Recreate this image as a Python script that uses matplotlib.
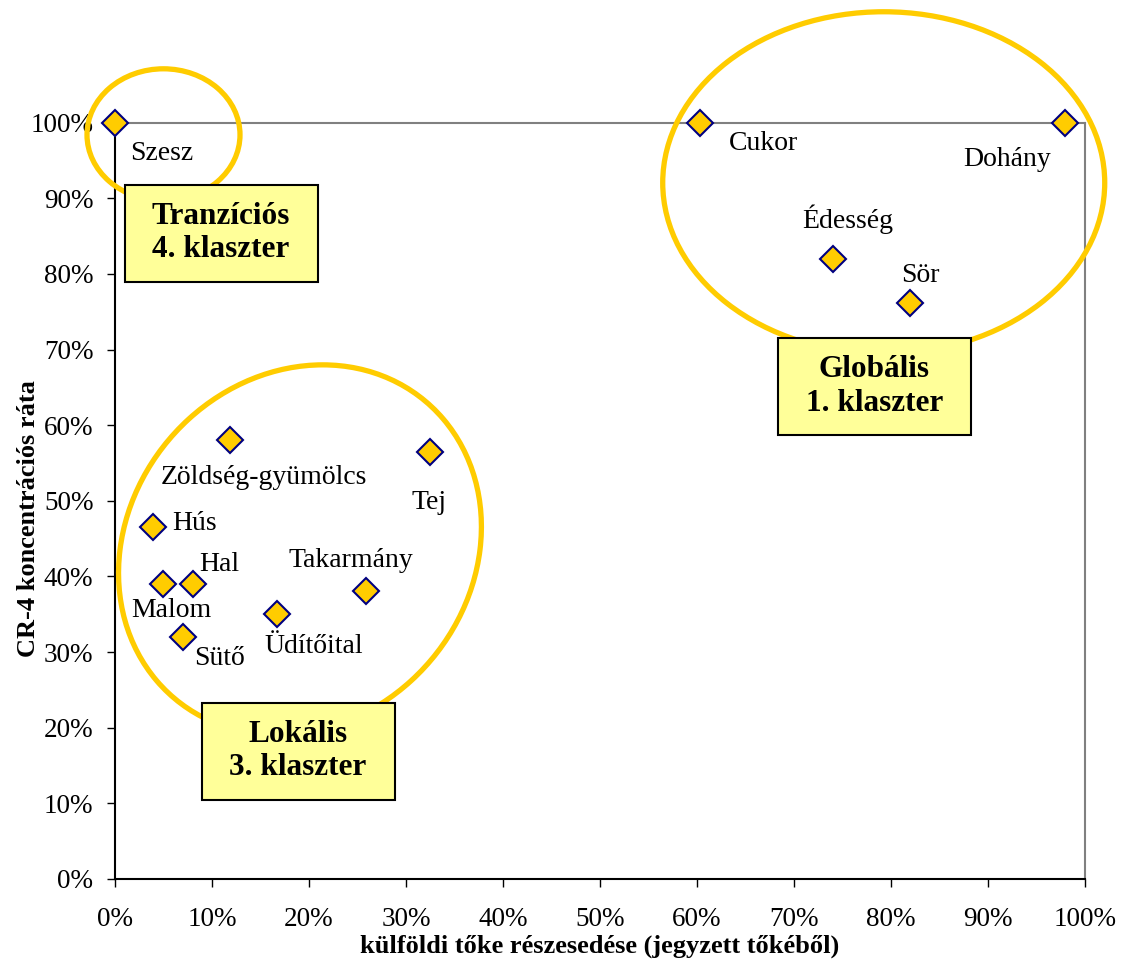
import matplotlib
matplotlib.use('Agg')
import matplotlib.pyplot as plt
from matplotlib.patches import Ellipse, Rectangle
from matplotlib.transforms import Affine2D, IdentityTransform
from matplotlib.ticker import PercentFormatter, MultipleLocator

plt.rcParams['font.family'] = ['Liberation Serif', 'DejaVu Serif']

# Adatok: ágazatok, külföldi tőke részesedése, CR-4 koncentrációs ráta
agazat = ['Szesz', 'Cukor', 'Dohány', 'Édesség', 'Sör', 'Zöldség-gyümölcs', 'Tej',
          'Hús', 'Hal', 'Malom', 'Sütő', 'Üdítőital', 'Takarmány']
kulfoldi_toke = [0.0, 0.603, 0.979, 0.740, 0.820, 0.119, 0.325,
                 0.039, 0.080, 0.049, 0.070, 0.167, 0.259]
cr4 = [1.0, 1.0, 1.0, 0.820, 0.762, 0.580, 0.564,
       0.466, 0.390, 0.390, 0.320, 0.351, 0.381]

klaszter_nev = ['Tranzíciós\n4. klaszter', 'Globális\n1. klaszter', 'Lokális\n3. klaszter']

# címkék eltolása pixelben (dx, dy, igazítás)
cimke_hely = [(15, -37, 'left'), (29, -27, 'left'), (-14, -43, 'right'),
              (15, 31, 'center'), (10, 21, 'center'), (33, -44, 'center'),
              (-1, -57, 'center'), (19, -3, 'left'), (7, 13, 'left'),
              (9, -33, 'center'), (11, -28, 'left'), (37, -39, 'center'),
              (-15, 24, 'center')]

# klaszter ellipszisek (középpont adatkoordinátában, méret pixelben, dőlés)
ellipszis = [((0.050, 0.984), 153, 132, 0), ((0.7925, 0.9206), 442, 342, 0),
             ((0.1907, 0.4352), 360, 370, 7.0)]
doboz = [(0.1094, 0.8540), (0.7827, 0.6512), (0.1887, 0.1689)]

W, H = 1129, 964
fig = plt.figure(figsize=(W / 100, H / 100), dpi=100)
ax = fig.add_axes([115 / W, 85 / H, 970 / W, 756.3 / H])
ax.set_xlim(0, 1)
ax.set_ylim(0, 1)

ax.plot(kulfoldi_toke, cr4, linestyle='none', marker='D', markersize=13,
        markerfacecolor='#FFCC00', markeredgecolor='#000080', markeredgewidth=1.5,
        clip_on=False, zorder=6)

for nev, x, y, (dx, dy, ha) in zip(agazat, kulfoldi_toke, cr4, cimke_hely):
    ax.annotate(nev, (x, y), xytext=(dx, dy), textcoords='offset pixels',
                ha=ha, va='baseline', fontsize=20, zorder=6)

# tengelyek
ax.xaxis.set_major_locator(MultipleLocator(0.1))
ax.yaxis.set_major_locator(MultipleLocator(0.1))
ax.xaxis.set_major_formatter(PercentFormatter(1.0, decimals=0))
ax.yaxis.set_major_formatter(PercentFormatter(1.0, decimals=0))
ax.tick_params(axis='both', direction='out', length=5.5, width=1, labelsize=19.5)
ax.tick_params(axis='x', pad=14.5)
ax.tick_params(axis='y', pad=10)
for s in ['top', 'right']:
    ax.spines[s].set_color('#808080')
    ax.spines[s].set_linewidth(1.5)
for s in ['left', 'bottom']:
    ax.spines[s].set_color('black')
    ax.spines[s].set_linewidth(1.5)

fig.text(600 / W, (H - 946) / H, 'külföldi tőke részesedése (jegyzett tőkéből)',
         ha='center', va='center', fontsize=19, fontweight='bold')
fig.text(29 / W, (H - 519) / H, 'CR-4 koncentrációs ráta', rotation=90,
         ha='center', va='center', fontsize=19, fontweight='bold')

# ellipszisek és klaszter dobozok
for (kp, w, h, dol) in ellipszis:
    cx, cy = ax.transData.transform(kp)
    tr = Affine2D().skew_deg(dol, 0).translate(cx, cy)
    e = Ellipse((0, 0), w, h, transform=tr, fill=False, edgecolor='#FFCC00',
                linewidth=3.8, clip_on=False, zorder=5)
    ax.add_artist(e)

for kp, nev in zip(doboz, klaszter_nev):
    cx, cy = ax.transData.transform(kp)
    r = Rectangle((cx - 96.5, cy - 48.5), 193, 97, transform=IdentityTransform(),
                  facecolor='#FFFF99', edgecolor='black', linewidth=1.5,
                  clip_on=False, zorder=7)
    ax.add_artist(r)
    ax.text(kp[0], kp[1], nev, ha='center', va='center', multialignment='center',
            fontsize=22.5, fontweight='bold', linespacing=1.2, zorder=8, clip_on=False)

fig.savefig('out.png', dpi=100)
